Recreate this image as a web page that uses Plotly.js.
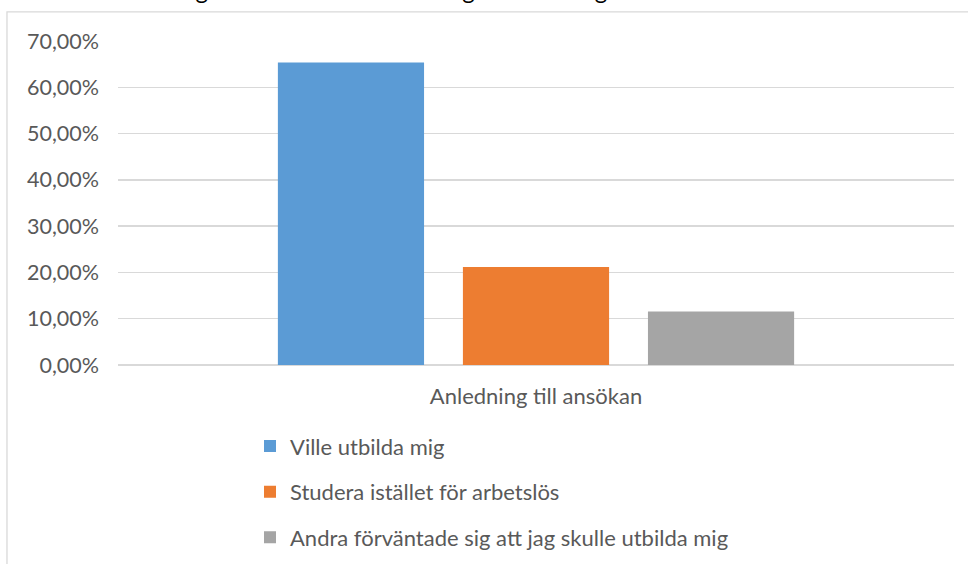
<!DOCTYPE html>
<html>
<head>
<meta charset="utf-8">
<script src="https://cdn.plot.ly/plotly-3.0.1.min.js"></script>
<style>html,body{margin:0;padding:0;background:#fff;}#chart{width:968px;height:564px;}</style>
</head>
<body>
<div id="chart"></div>
<script>
const categories = ["Anledning till ansökan"];
const seriesNames = ["Ville utbilda mig", "Studera istället för arbetslös", "Andra förväntade sig att jag skulle utbilda mig"];
const seriesValues = [[0.6538], [0.2115], [0.1154]];
const seriesColors = ["#5B9BD5", "#ED7D31", "#A5A5A5"];
const yTickValues = [0, 0.1, 0.2, 0.3, 0.4, 0.5, 0.6, 0.7];
const yTickLabels = ["0,00%", "10,00%", "20,00%", "30,00%", "40,00%", "50,00%", "60,00%", "70,00%"];
const titleText = "Vad var anledningen till att du sökte till högre utbildning.";

const font = "Lato, 'Open Sans', sans-serif";
const textColor = "#595959";

const traces = seriesNames.map((name, i) => ({
  type: "bar",
  name: name,
  x: categories,
  y: seriesValues[i],
  marker: {color: seriesColors[i]},
  legendgroup: "g" + i,
  hoverinfo: "none"
}));

const layout = {
  width: 968,
  height: 564,
  margin: {l: 118, r: 14, t: 41, b: 199.3, autoexpand: false},
  paper_bgcolor: "#ffffff",
  plot_bgcolor: "#ffffff",
  barmode: "group",
  bargap: 0.336,
  bargroupgap: 0.21,
  font: {family: font, size: 22, color: textColor},
  xaxis: {
    type: "category",
    showgrid: false,
    showline: false,
    zeroline: false,
    ticks: "",
    ticklabelstandoff: 16,
    tickfont: {family: font, size: 22, color: textColor}
  },
  yaxis: {
    range: [0, 0.7],
    tickvals: yTickValues,
    ticktext: yTickLabels,
    showgrid: true,
    gridcolor: "#d9d9d9",
    gridwidth: 1.3,
    zeroline: true,
    zerolinecolor: "#d9d9d9",
    zerolinewidth: 1.3,
    showline: false,
    ticks: "",
    ticklabelstandoff: 18,
    tickfont: {family: font, size: 21.5, color: textColor},
    fixedrange: true
  },
  showlegend: true,
  legend: {
    orientation: "v",
    x: (250 - 118) / 836,
    xanchor: "left",
    y: -0.186,
    yanchor: "top",
    traceorder: "grouped",
    tracegroupgap: 14,
    font: {family: font, size: 22, color: textColor},
    bgcolor: "rgba(0,0,0,0)"
  },
  shapes: [{
    type: "rect",
    xref: "paper", yref: "paper",
    x0: -0.1328, x1: 1.03,
    y0: -0.75, y1: 1.0896,
    line: {color: "#d9d9d9", width: 1.3},
    fillcolor: "rgba(0,0,0,0)",
    layer: "below"
  }],
  annotations: [{
    text: titleText,
    xref: "paper", yref: "paper",
    x: (20 - 118) / 836,
    xanchor: "left",
    y: 1 + 34.5 / 323.7,
    yanchor: "bottom",
    showarrow: false,
    font: {family: font, size: 24, color: "#000000"}
  }]
};

Plotly.newPlot("chart", traces, layout, {displayModeBar: false, staticPlot: true});
</script>
</body>
</html>
